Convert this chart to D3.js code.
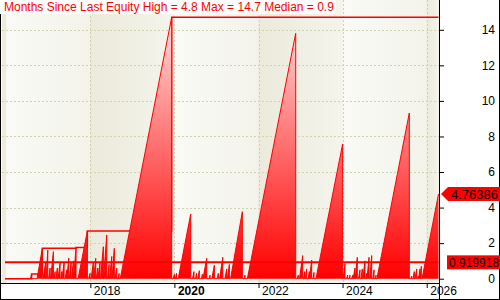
<!DOCTYPE html>
<html><head><meta charset="utf-8">
<script src="https://cdn.jsdelivr.net/npm/d3@7"></script>
<style>body{margin:0;background:#fff}svg{display:block}text{font-family:"Liberation Sans",Arial,sans-serif}</style>
</head><body>
<svg id="c" width="500" height="300"></svg>
<script>
// ---- data (dates as decimal years) ----
const firstDate = 2015.972;
const spikeStart = [2016.578,2016.732,2016.875,2016.947,2017.006,2017.054,2017.137,2017.180,2017.232,2017.296,2017.327,2017.398,2017.441,2017.498,2017.553,2017.600,2017.708,2017.957,2018.017,2018.081,2018.140,2018.178,2018.243,2018.314,2018.409,2018.457,2018.516,2018.587,2018.659,2018.711,
  2019.967,2020.026,2020.090,2020.430,2020.502,2020.554,2020.645,2020.680,2020.823,2020.889,2021.013,2021.073,2021.199,2021.258,2021.334,2021.655,2021.734,
  2022.916,2022.975,2023.070,2023.113,2023.184,2023.213,2023.296,2023.367,2024.014,2024.093,2024.152,2024.212,2024.252,2024.302,2024.378,2024.438,2024.480,2024.552,2024.580,2024.642,2024.718,2024.778,2024.815,
  2025.615,2025.674,2025.722,2025.786,2025.810,2025.848,2025.888];
const spikePeak = [2016.602,2016.858,2016.939,2016.987,2017.042,2017.120,2017.161,2017.215,2017.279,2017.320,2017.375,2017.439,2017.486,2017.541,2017.596,2017.660,2017.929,2017.993,2018.071,2018.128,2018.176,2018.231,2018.309,2018.390,2018.445,2018.509,2018.571,2018.628,2018.683,2019.936,
  2020.002,2020.050,2020.388,2020.466,2020.526,2020.592,2020.664,2020.768,2020.847,2020.949,2021.044,2021.149,2021.244,2021.306,2021.615,2021.679,2022.885,
  2022.947,2023.051,2023.099,2023.146,2023.208,2023.265,2023.320,2024.002,2024.057,2024.121,2024.176,2024.240,2024.295,2024.350,2024.414,2024.469,2024.533,2024.573,2024.628,2024.692,2024.747,2024.794,2025.586,
  2025.643,2025.705,2025.762,2025.800,2025.841,2025.872,2026.281];
const spikeValue = [0.26,1.71,0.96,1.61,0.6,1.52,0.4,0.6,0.9,0.4,0.9,0.5,1.15,0.9,1.0,1.76,2.68,0.3,0.9,1.15,0.6,0.9,1.8,2.46,0.8,1.25,1.71,0.6,0.3,14.7,
  0.25,0.3,3.64,0.4,0.3,0.45,0.25,1.15,0.2,0.76,0.3,1.2,0.55,0.8,3.77,0.2,13.8,
  0.2,1.3,0.4,0.55,0.4,1.05,0.35,7.58,0.85,0.2,0.2,0.2,0.6,1.2,0.5,0.55,1.0,0.3,1.2,1.3,0.5,0.2,9.32,
  0.15,0.4,0.55,0.15,0.55,0.7,4.76386];
const medianValue = 0.919918;
const lastValue = 4.76386;
const yTicks = [0,2,4,6,8,10,12,14];
const xTickYears = [2018,2020,2022,2024,2026];
const bandYears = [2016,2018,2020,2022,2024,2026];
const titleText = "Months Since Last Equity High = 4.8 Max = 14.7 Median = 0.9";

// ---- helpers ----
function dy(d){const y=Math.floor(d);const a=Date.UTC(y,0,1),b=Date.UTC(y+1,0,1);return new Date(a+(d-y)*(b-a));}

// build series vertices
const pts=[{d:dy(firstDate),v:0}];
spikeStart.forEach((s,i)=>{
  pts.push({d:dy(s),v:0});
  pts.push({d:dy(spikePeak[i]),v:spikeValue[i]});
  if(i<spikeStart.length-1) pts.push({d:dy(spikePeak[i]),v:0});
});
let rm=0; pts.forEach(p=>{rm=Math.max(rm,p.v);p.m=rm;});

const L=2,R=439,T=0,B=278.7;
const x=d3.scaleUtc().domain([dy(2015.900),dy(2026.2925)]).range([L,R]);
const y=d3.scaleLinear().domain([0,15.675]).range([B,T]);

const svg=d3.select("#c");
const defs=svg.append("defs");
const lg=defs.append("linearGradient").attr("id","lightBand").attr("x1",0).attr("x2",1).attr("y1",0).attr("y2",0);
lg.append("stop").attr("offset",0).attr("stop-color","#fafaf6");
lg.append("stop").attr("offset",1).attr("stop-color","#f3f3eb");
const dg=defs.append("linearGradient").attr("id","darkBand").attr("x1",0).attr("x2",1).attr("y1",0).attr("y2",0);
dg.append("stop").attr("offset",0).attr("stop-color","#ebeadb");
dg.append("stop").attr("offset",1).attr("stop-color","#f4f4ec");
const rg=defs.append("linearGradient").attr("id","redFill").attr("gradientUnits","userSpaceOnUse")
  .attr("x1",0).attr("x2",0).attr("y1",y(0)).attr("y2",y(15.675));
rg.append("stop").attr("offset",0).attr("stop-color","#ff0000");
rg.append("stop").attr("offset",1).attr("stop-color","#ffeaea");
defs.append("clipPath").attr("id","clip").append("rect").attr("x",L).attr("y",T).attr("width",R-L).attr("height",283-T);

// plot background
svg.append("rect").attr("x",0).attr("y",0).attr("width",500).attr("height",300).attr("fill","#fff");
const g=svg.append("g").attr("clip-path","url(#clip)");
g.append("rect").attr("x",L).attr("y",T).attr("width",R-L).attr("height",283-T).attr("fill","#ecebdd");
bandYears.forEach((yr,i)=>{
  const x0=Math.max(L,x(dy(yr))), x1=i<bandYears.length-1?x(dy(bandYears[i+1])):R;
  g.append("rect").attr("x",x0).attr("y",T).attr("width",Math.max(0,x1-x0)).attr("height",283-T)
   .attr("fill",i%2===0?"url(#lightBand)":"url(#darkBand)");
});
// grid
yTicks.filter(v=>v>0).forEach(v=>{
  g.append("line").attr("x1",L).attr("x2",R).attr("y1",Math.round(y(v))+0.5).attr("y2",Math.round(y(v))+0.5)
   .attr("stroke","#d2d2ae").attr("stroke-dasharray","2,2");
});
xTickYears.forEach(yr=>{
  const xx=Math.round(x(dy(yr)))+0.5;
  g.append("line").attr("x1",xx).attr("x2",xx).attr("y1",T).attr("y2",283)
   .attr("stroke","#d2d2ae").attr("stroke-dasharray","2,2");
});
// running max line
g.append("path").datum(pts).attr("fill","none").attr("stroke","#ff0000").attr("stroke-width",1.5)
 .attr("d",d3.line().x(p=>x(p.d)).y(p=>y(p.m)).curve(d3.curveStepAfter));
// area
g.append("path").datum(pts).attr("fill","url(#redFill)")
 .attr("d",d3.area().x(p=>x(p.d)).y0(y(0)).y1(p=>y(p.v)));
g.append("path").datum(pts).attr("fill","none").attr("stroke","#ff0000").attr("stroke-width",1)
 .attr("d",d3.line().x(p=>x(p.d)).y(p=>y(p.v)));
// median line
g.append("line").attr("x1",x(pts[0].d)).attr("x2",x(pts[pts.length-1].d))
 .attr("y1",y(medianValue)).attr("y2",y(medianValue)).attr("stroke","#ff0000").attr("stroke-width",2);

// frame & axes
svg.append("line").attr("x1",0).attr("x2",439.5).attr("y1",283.5).attr("y2",283.5).attr("stroke","#000");
svg.append("line").attr("x1",439.5).attr("x2",439.5).attr("y1",0).attr("y2",300).attr("stroke","#000");
svg.append("line").attr("x1",0.5).attr("x2",0.5).attr("y1",0).attr("y2",300).attr("stroke","#000");
svg.append("line").attr("x1",0).attr("x2",500).attr("y1",299.5).attr("y2",299.5).attr("stroke","#000");
svg.append("line").attr("x1",499.5).attr("x2",499.5).attr("y1",0).attr("y2",300).attr("stroke","#000");

// right axis
const ya=svg.append("g").attr("transform","translate(439,0)")
 .call(d3.axisRight(y).tickValues(yTicks).tickSize(5).tickFormat(d3.format("d")));
ya.select(".domain").remove();
ya.selectAll(".tick line").attr("stroke","#000");
ya.selectAll(".tick text").attr("x",56).attr("text-anchor","end").attr("fill","#000")
  .attr("font-size",12).attr("font-family","Liberation Sans, Arial, sans-serif");

// bottom axis
const xa=svg.append("g").attr("transform","translate(0,283)")
 .call(d3.axisBottom(x).tickValues(xTickYears.map(dy)).tickSize(5).tickFormat(d3.utcFormat("%Y")));
xa.select(".domain").remove();
xa.selectAll(".tick line").attr("stroke","#000");
xa.selectAll(".tick text").attr("x",3).attr("y",3).attr("dy","0.71em").attr("text-anchor","start").attr("fill","#000")
  .attr("font-size",12).attr("font-family","Liberation Sans, Arial, sans-serif")
  .attr("font-weight",d=>d.getUTCFullYear()===2020?"bold":"normal");

// value labels
const yl=y(lastValue);
svg.append("path").attr("fill","#ff0000")
 .attr("d",`M441,${yl}L448,${yl-7}L500,${yl-7}L500,${yl+7}L448,${yl+7}Z`);
svg.append("text").attr("x",451).attr("y",yl).attr("dy","0.36em").attr("font-size",13).attr("fill","#200000").text(String(lastValue));
const ym=y(medianValue);
svg.append("rect").attr("x",447).attr("y",ym-7).attr("width",53).attr("height",14).attr("fill","#ff0000");
svg.append("text").attr("x",449).attr("y",ym).attr("dy","0.36em").attr("font-size",12).attr("fill","#200000").text(String(medianValue));

// title
const tbox=svg.append("rect").attr("x",0).attr("y",0).attr("height",14).attr("fill","#fff");
const tt=svg.append("text").attr("x",4).attr("y",11).attr("font-size",12).attr("fill","#ff0000").text(titleText);
tbox.attr("width",tt.node().getComputedTextLength()+6);
</script>
</body></html>
